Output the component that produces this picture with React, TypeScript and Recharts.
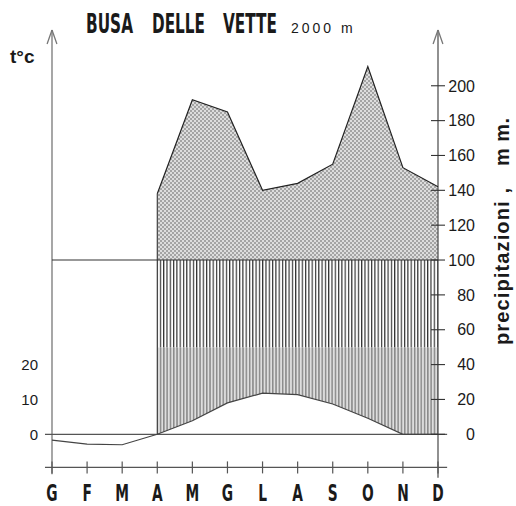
import React from "react";
import {
  ComposedChart,
  Area,
  Line,
  XAxis,
  YAxis,
  ReferenceLine,
} from "recharts";

const months = ["G", "F", "M", "A", "M", "G", "L", "A", "S", "O", "N", "D"];
const temperature = [-1.7, -2.8, -3.0, 0, 3.9, 9.0, 11.8, 11.4, 8.7, 4.6, 0, 0];
const precipitation: (number | null)[] = [null, null, null, 138, 192, 185, 140, 144, 155, 211, 153, 142];
const tempTicks = [0, 10, 20];
const precipTicks = [0, 20, 40, 60, 80, 100, 120, 140, 160, 180, 200];
const monthIndex = months.map((_, i) => i);

const data = months.map((m, i) => {
  const p = precipitation[i];
  const t = temperature[i];
  return {
    i,
    month: m,
    temp: t,
    precip: p,
    stip: p == null ? null : [100, Math.max(p, 100)],
    hatchUp: p == null ? null : [50, Math.min(p, 100)],
    hatchLow: p == null ? null : [Math.max(t * 2, 0), 50],
  };
});

const boldFont = "'DejaVu Sans', 'Liberation Sans', sans-serif";
const sans = "'Liberation Sans', Arial, Helvetica, sans-serif";

const XTick = (props: any) => {
  const { x, y, payload } = props;
  return (
    <g>
      <line x1={x} x2={x} y1={y - 6} y2={y + 6} stroke="#555" strokeWidth={1.2} />
      <text
        transform={`translate(${x},${y + 34}) scale(0.6,1)`}
        x={0}
        y={0}
        textAnchor="middle"
        fontFamily={boldFont}
        fontWeight="bold"
        fontSize={23}
        fill="#1a1a1a"
      >
        {months[payload.value]}
      </text>
    </g>
  );
};

const RTick = (props: any) => {
  const { x, y, payload } = props;
  return (
    <g>
      <line x1={x - 7} x2={x + 7} y1={y} y2={y} stroke="#333" strokeWidth={1.1} />
      <text
        x={x + 37}
        y={y}
        dy="0.36em"
        textAnchor="end"
        fontFamily={sans}
        fontSize={16}
        fill="#1a1a1a"
      >
        {payload.value}
      </text>
    </g>
  );
};

const TitleWord = ({ x, w, children }: { x: number; w: number; children: string }) => (
  <text
    transform={`translate(${x},33) scale(0.57,1)`}
    x={0}
    y={0}
    fontFamily={boldFont}
    fontWeight="bold"
    fontSize={26}
    textLength={w / 0.57}
    lengthAdjust="spacingAndGlyphs"
  >
    {children}
  </text>
);

export default function App() {
  return (
    <div style={{ position: "absolute", left: 0, top: 0, width: 516, height: 506, background: "#fff" }}>
      <svg
        width={516}
        height={506}
        style={{ position: "absolute", left: 0, top: 0, pointerEvents: "none", zIndex: 2 }}
      >
        <defs>
          <pattern id="stipple" width="4" height="4" x="0" y="0" patternUnits="userSpaceOnUse">
            <rect width="4" height="4" fill="#dddddd" />
            <rect width="2" height="2" fill="#a4a4a4" />
            <rect x="2" y="2" width="2" height="2" fill="#a4a4a4" />
          </pattern>
          <pattern id="hatchUp" width="3.3" height="10" x="156.5" patternUnits="userSpaceOnUse">
            <rect width="3.3" height="10" fill="#ffffff" />
            <rect width="1.2" height="10" fill="#333333" />
          </pattern>
          <pattern id="hatchLow" width="3.3" height="10" x="156.5" patternUnits="userSpaceOnUse">
            <rect width="3.3" height="10" fill="#dedede" />
            <rect width="1.5" height="10" fill="#8a8a8a" />
          </pattern>
        </defs>
        <g fill="#1a1a1a">
          <TitleWord x={86} w={47}>BUSA</TitleWord>
          <TitleWord x={152} w={53}>DELLE</TitleWord>
          <TitleWord x={223} w={54}>VETTE</TitleWord>
          <text x={291} y={33} fontFamily={sans} fontSize={14} letterSpacing={3}>2000 m</text>
          <text x={10} y={63} fontFamily={sans} fontWeight="bold" fontSize={19}>t°c</text>
          <text
            x={509}
            y={345}
            transform="rotate(-90 509 345)"
            fontFamily={sans}
            fontWeight="bold"
            fontSize={20}
            textLength={157}
            lengthAdjust="spacing"
          >
            precipitazioni ,
          </text>
          <text
            x={509}
            y={166}
            transform="rotate(-90 509 166)"
            fontFamily={sans}
            fontWeight="bold"
            fontSize={20}
            textLength={48}
            lengthAdjust="spacing"
          >
            m m.
          </text>
        </g>
      </svg>
      <ComposedChart
        width={516}
        height={506}
        data={data}
        margin={{ top: 30, right: 38, bottom: 8.6, left: 22 }}
      >
        <XAxis
          dataKey="i"
          type="number"
          domain={[0, 11]}
          ticks={monthIndex}
          interval={0}
          axisLine={false}
          tickLine={false}
          tickSize={0}
          tickMargin={0}
          height={30}
          tick={<XTick />}
        />
        <YAxis
          yAxisId="t"
          orientation="left"
          type="number"
          domain={[-9.5, 116]}
          ticks={tempTicks}
          axisLine={false}
          tickLine={false}
          tickSize={0}
          tickMargin={14}
          width={30}
          tick={{ fontSize: 15, fill: "#1a1a1a", fontFamily: sans }}
        />
        <YAxis
          yAxisId="p"
          orientation="right"
          type="number"
          domain={[-19, 232]}
          ticks={precipTicks}
          axisLine={false}
          tickLine={false}
          tickSize={0}
          tickMargin={0}
          width={40}
          tick={<RTick />}
        />
        <Area
          yAxisId="p"
          type="linear"
          dataKey="hatchLow"
          stroke="none"
          fill="url(#hatchLow)"
          fillOpacity={1}
          isAnimationActive={false}
          connectNulls={false}
        />
        <Area
          yAxisId="p"
          type="linear"
          dataKey="hatchUp"
          stroke="none"
          fill="url(#hatchUp)"
          fillOpacity={1}
          isAnimationActive={false}
          connectNulls={false}
        />
        <Area
          yAxisId="p"
          type="linear"
          dataKey="stip"
          stroke="none"
          fill="url(#stipple)"
          fillOpacity={1}
          isAnimationActive={false}
          connectNulls={false}
        />
        <ReferenceLine yAxisId="p" ifOverflow="visible" segment={[{ x: 0, y: -23 }, { x: 0, y: 232 }]} stroke="#777" strokeWidth={1.3} />
        <ReferenceLine yAxisId="p" ifOverflow="visible" segment={[{ x: -0.14, y: 224 }, { x: 0, y: 232 }]} stroke="#777" strokeWidth={1.3} />
        <ReferenceLine yAxisId="p" ifOverflow="visible" segment={[{ x: 0.14, y: 224 }, { x: 0, y: 232 }]} stroke="#777" strokeWidth={1.3} />
        <ReferenceLine yAxisId="p" ifOverflow="visible" segment={[{ x: 11, y: -25 }, { x: 11, y: 232 }]} stroke="#555" strokeWidth={1.3} />
        <ReferenceLine yAxisId="p" ifOverflow="visible" segment={[{ x: 10.86, y: 224 }, { x: 11, y: 232 }]} stroke="#777" strokeWidth={1.3} />
        <ReferenceLine yAxisId="p" ifOverflow="visible" segment={[{ x: 11.14, y: 224 }, { x: 11, y: 232 }]} stroke="#777" strokeWidth={1.3} />
        <ReferenceLine yAxisId="p" ifOverflow="visible" segment={[{ x: -0.2, y: 0 }, { x: 11.26, y: 0 }]} stroke="#555" strokeWidth={1.2} />
        <ReferenceLine yAxisId="p" ifOverflow="visible" segment={[{ x: -0.2, y: -19 }, { x: 11.26, y: -19 }]} stroke="#555" strokeWidth={1.2} />
        <ReferenceLine yAxisId="p" ifOverflow="visible" segment={[{ x: 0, y: 100 }, { x: 11, y: 100 }]} stroke="#333" strokeWidth={1.1} />
        <ReferenceLine yAxisId="p" ifOverflow="visible" segment={[{ x: 3, y: 0 }, { x: 3, y: precipitation[3] as number }]} stroke="#333" strokeWidth={1.1} />
        <Line
          yAxisId="p"
          type="linear"
          dataKey="precip"
          stroke="#222"
          strokeWidth={1.2}
          dot={false}
          activeDot={false}
          connectNulls={false}
          isAnimationActive={false}
        />
        <Line
          yAxisId="t"
          type="linear"
          dataKey="temp"
          stroke="#444"
          strokeWidth={1.2}
          dot={false}
          activeDot={false}
          isAnimationActive={false}
        />
      </ComposedChart>
    </div>
  );
}
